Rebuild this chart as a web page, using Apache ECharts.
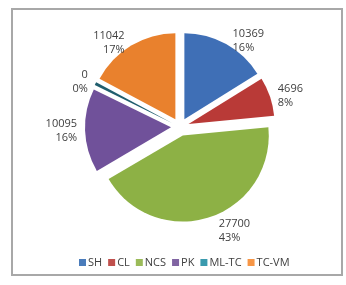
<!DOCTYPE html>
<html><head><meta charset="utf-8">
<script src="https://cdn.jsdelivr.net/npm/echarts@6/dist/echarts.min.js"></script>
<style>html,body{margin:0;padding:0;background:#fff}#c{width:346px;height:285px}</style>
</head><body><div id="c"></div>
<script>
const categories = ['SH','CL','NCS','PK','ML-TC','TC-VM'];
const values = [10369, 4696, 27700, 10095, 0, 11042];
const colors = ['#3F6FB6','#B93A37','#8DB145','#70519A','#215E6E','#E9812D'];
const legendColors = ['#4A7CBB','#C0504D','#9BBB59','#8064A2','#3A9AAE','#F79646'];

const chart = echarts.init(document.getElementById('c'), null, {renderer:'canvas'});
chart.setOption({
  animation:false,
  graphic:[{type:'rect',shape:{x:12,y:9,width:330,height:266},style:{fill:'none',stroke:'#a8a8a8',lineWidth:2},silent:true}],
  legend:{
    bottom:12, left:74,
    itemWidth:7, itemHeight:7, itemGap:6, icon:'rect',
    textStyle:{fontFamily:'Open Sans',fontSize:11,color:'#404040',padding:[0,0,0,-3]},
    selectedMode:false,
    data: categories.map((n,i)=>({name:n,itemStyle:{color:legendColors[i]}}))
  },
  series:[{
    type:'pie',
    center:[180,127],
    radius:[0,86],
    startAngle:90,
    clockwise:true,
    minAngle:2,
    avoidLabelOverlap:false,
    selectedMode:'multiple',
    selectedOffset:9,
    percentPrecision:0,
    label:{show:true,position:'outside',formatter:'{c}\n{d}%',fontFamily:'Open Sans',fontSize:11,lineHeight:14,color:'#404040',align:'center'},
    labelLine:{show:false,length:3,length2:0},
    emphasis:{disabled:true},
    data: categories.map((n,i)=>({name:n,value:values[i],selected:true,itemStyle:{color:colors[i]},
      labelLine: n==='NCS' ? {length:14,length2:0} : undefined}))
  }]
});
</script></body></html>
